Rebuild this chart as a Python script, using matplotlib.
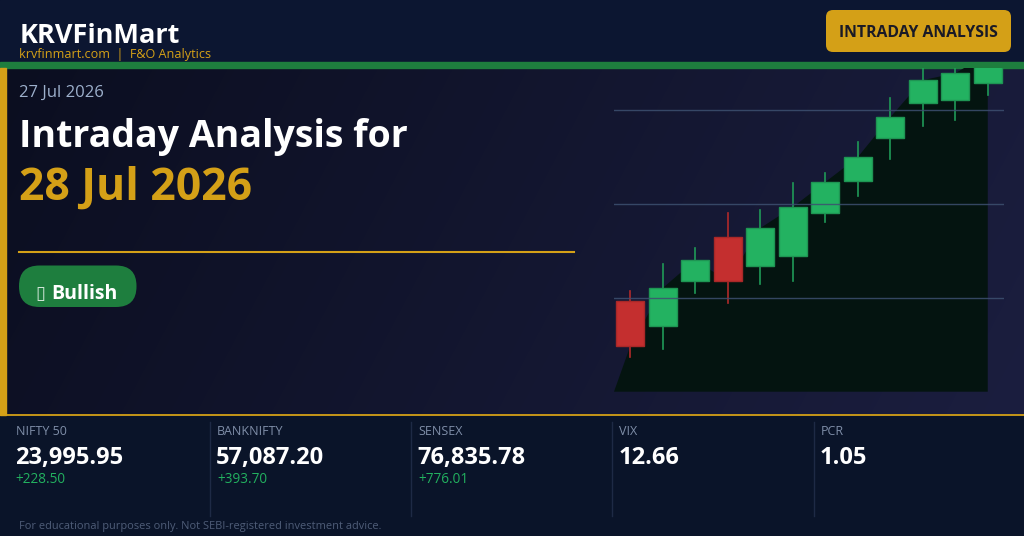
import matplotlib as mpl

mpl.use('Agg')

import matplotlib.pyplot as plt
import numpy as np
from matplotlib.patches import FancyBboxPatch, Rectangle

# candle data (12 intraday bars)
opens = [23796.7, 23770.0, 23818.0, 23865.3, 23834.0, 23844.7,
         23890.5, 23924.6, 23970.5, 24007.8, 24011.0, 24029.0]
closes = [23748.7, 23810.6, 23840.4, 23818.0, 23874.5, 23896.9,
          23923.6, 23950.2, 23992.8, 24032.3, 24039.8, 24060.0]
highs = [23807.4, 23836.1, 23853.2, 23890.5, 23893.7, 23922.5,
         23933.2, 23966.2, 24013.1, 24062.0, 24065.0, 24075.0]
lows = [23737.0, 23745.5, 23805.2, 23794.6, 23814.8, 23818.0,
        23880.9, 23908.6, 23948.1, 23983.3, 23989.7, 24016.2]
grid_levels = [23800, 23900, 24000]

# stats strip
stat_names = ["NIFTY 50", "BANKNIFTY", "SENSEX", "VIX", "PCR"]
stat_values = ["23,995.95", "57,087.20", "76,835.78", "12.66", "1.05"]
stat_changes = ["+228.50", "+393.70", "+776.01", "", ""]

GOLD = '#d4a017'
GREEN = '#1e7e3e'
UP = '#23b261'
DOWN = '#c42f2f'

plt.rcParams['font.family'] = ['Open Sans', 'DejaVu Sans']

fig = plt.figure(figsize=(10.24, 5.36), dpi=100)
fig.patch.set_facecolor('#0b1530')

# background canvas in pixel coordinates
ax = fig.add_axes([0, 0, 1, 1])
ax.axis('off')

ax.add_patch(Rectangle((0, 0), 1024, 62, color='#0c1631', zorder=0))
ax.add_patch(Rectangle((0, 415), 1024, 121, color='#0a1429', zorder=0))

# main panel gradient
gx = np.linspace(0, 1, 256)
gy = np.linspace(0, 1, 64)
gxx, gyy = np.meshgrid(gx, gy)
t = np.clip(0.85 * gxx + 0.15 * gyy, 0, 1)[..., None]
c0 = np.array([0x0b, 0x0e, 0x20]) / 255
c1 = np.array([0x1b, 0x1e, 0x3f]) / 255
ax.imshow(c0 + (c1 - c0) * t, extent=[0, 1024, 415, 68], aspect='auto',
          interpolation='bilinear', zorder=0.5)

ax.add_patch(Rectangle((0, 61.7), 1024, 6.6, color=GREEN, zorder=3))
ax.add_patch(Rectangle((0, 68), 6, 347, color=GOLD, zorder=3))
ax.plot([0, 1024], [415, 415], color=GOLD, lw=1.3, zorder=3)
ax.plot([19, 574], [252, 252], color=GOLD, lw=1.5, zorder=3)

# header
ax.text(19.5, 43.3, "KRVFinMart", color='white', fontsize=19.5,
        fontweight='bold', va='baseline', zorder=4)
ax.text(19, 58, "krvfinmart.com  |  F&O Analytics", color=GOLD,
        fontsize=9.1, va='baseline', zorder=4)
ax.add_patch(FancyBboxPatch((826, 10), 185, 42,
                            boxstyle='round,pad=0,rounding_size=7',
                            fc=GOLD, ec='none', zorder=4))
ax.text(918, 37.3, "INTRADAY ANALYSIS", color='#1a1a26', fontsize=11.3,
        fontweight='bold', ha='center', va='baseline', zorder=5)

# headline
ax.text(19, 97, "27 Jul 2026", color='#9db0cc', fontsize=12,
        va='baseline', zorder=4)
ax.text(19, 146.7, "Intraday Analysis for", color='white', fontsize=27,
        fontweight='bold', va='baseline', zorder=4)
ax.text(19, 199.3, "28 Jul 2026", color=GOLD, fontsize=32,
        fontweight='bold', va='baseline', zorder=4)

ax.add_patch(FancyBboxPatch((19, 265.5), 117.5, 41.5,
                            boxstyle='round,pad=0,rounding_size=20.5',
                            fc=GREEN, ec='none', zorder=4))
ax.text(35, 299, "\u25af", color='#cfe5d6', fontsize=13,
        family='DejaVu Sans', va='baseline', zorder=5)
ax.text(51.5, 299, "Bullish", color='white', fontsize=14,
        fontweight='bold', va='baseline', zorder=5)

# stats row
for i, (name, val, chg) in enumerate(zip(stat_names, stat_values,
                                         stat_changes)):
    x0 = 15.7 + i * 201.2
    ax.text(x0, 434.7, name, color='#7f8ea8', fontsize=9,
            va='baseline', zorder=4)
    ax.text(x0 - 0.8, 464, val, color='white', fontsize=17,
            fontweight='bold', va='baseline', zorder=4)
    if chg:
        ax.text(x0, 483.3, chg, color='#22b05f', fontsize=9.8,
                va='baseline', zorder=4)
    if i > 0:
        ax.plot([x0 - 7, x0 - 7], [422, 516], color='#1e2a45', lw=1,
                zorder=3)

ax.text(19, 529.5,
        "For educational purposes only. Not SEBI-registered investment advice.",
        color='#4f5d78', fontsize=7.9, va='baseline', zorder=4)

ax.set_xlim(0, 1024)
ax.set_ylim(536, 0)

# candlestick panel
cax = fig.add_axes([614 / 1024, (536 - 391.7) / 536, 390 / 1024,
                    (391.7 - 68.3) / 536])
cax.patch.set_alpha(0)
cax.axis('off')
ymin, ymax = 23700, 24045
cax.set_xlim(-0.5, 11.5)
cax.set_ylim(ymin, ymax)

idx = np.arange(len(closes))
fx = np.concatenate([[-0.5], idx, [idx[-1]]])
fy = np.concatenate([[ymin], closes, [ymin]])
cax.fill(fx, fy, color='#041410', lw=0, zorder=1)

for i in idx:
    o, c, h, l = opens[i], closes[i], highs[i], lows[i]
    up = c >= o
    body = UP if up else DOWN
    edge = '#1e9553' if up else '#a82828'
    wick = '#1f9a57' if up else '#b02a2a'
    cax.plot([i, i], [l, h], color=wick, lw=1.2, zorder=2)
    cax.add_patch(Rectangle((i - 0.43, min(o, c)), 0.86, abs(c - o),
                            fc=body, ec=edge, lw=1, zorder=3))

for g in grid_levels:
    cax.axhline(g, color='#3d5070', lw=1, alpha=0.85, zorder=4)

fig.savefig('out.png', dpi=100, facecolor=fig.get_facecolor())
